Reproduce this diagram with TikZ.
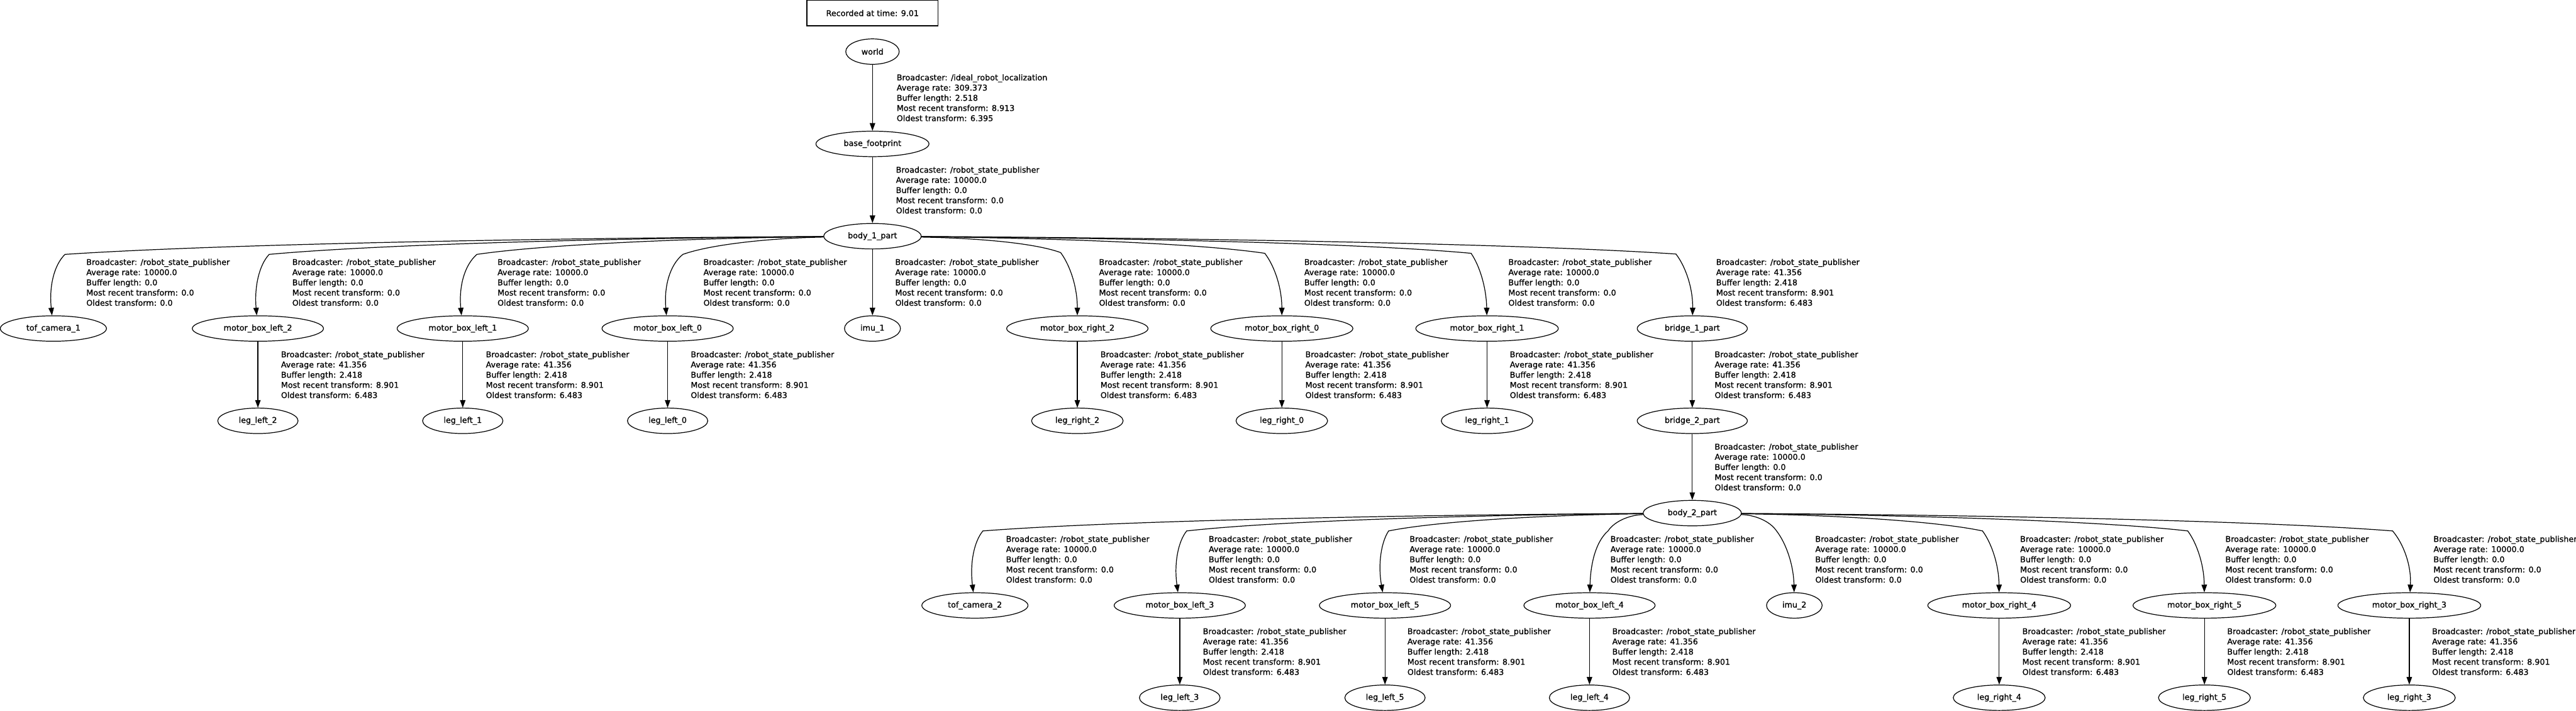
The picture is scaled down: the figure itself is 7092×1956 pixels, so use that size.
\documentclass[tikz,border=0pt]{standalone}
\usepackage{fontspec}
\setmainfont{DejaVu Sans}[FakeBold=1]
\usetikzlibrary{arrows.meta,shapes.geometric}

\newcommand{\staticinfo}{Broadcaster: /robot\_state\_publisher\\Average rate: 10000.0\\Buffer length: 0.0\\Most recent transform: 0.0\\Oldest transform: 0.0}
\newcommand{\liveinfo}{Broadcaster: /robot\_state\_publisher\\Average rate: 41.356\\Buffer length: 2.418\\Most recent transform: 8.901\\Oldest transform: 6.483}

\begin{document}
\begin{tikzpicture}[x=0.01cm, y=-0.01cm,
    font=\fontsize{6.26}{7.97}\selectfont,
    frame/.style={draw, ellipse, line width=0.6pt, inner sep=0pt, minimum height=0.7cm, minimum width=#1},
    info/.style={anchor=west, align=left, inner sep=0pt},
    edge/.style={line width=0.6pt, -{Triangle[length=0.21cm, width=0.15cm]}}]

    \useasboundingbox (0,0) rectangle (7092,1956);

    \node[draw, line width=0.6pt, minimum width=3.61cm, minimum height=0.7cm] (stamp) at (2402,36) {Recorded at time: 9.01};

    \node[frame=1.47cm] (world) at (2402,142) {world};
    \node[frame=3.11cm] (basefp) at (2402,396) {base\_footprint};
    \node[frame=2.68cm] (body1) at (2402,650) {body\_1\_part};

    \node[frame=2.92cm] (tof1) at (147,904) {tof\_camera\_1};
    \node[frame=3.61cm] (mbl2) at (710,904) {motor\_box\_left\_2};
    \node[frame=3.61cm] (mbl1) at (1274,904) {motor\_box\_left\_1};
    \node[frame=3.61cm] (mbl0) at (1838,904) {motor\_box\_left\_0};
    \node[frame=1.54cm] (imu1) at (2402,904) {imu\_1};
    \node[frame=3.89cm] (mbr2) at (2966,904) {motor\_box\_right\_2};
    \node[frame=3.91cm] (mbr0) at (3529,904) {motor\_box\_right\_0};
    \node[frame=3.92cm] (mbr1) at (4094,904) {motor\_box\_right\_1};
    \node[frame=3.03cm] (bridge1) at (4659,904) {bridge\_1\_part};

    \node[frame=2.21cm] (legl2) at (710,1158) {leg\_left\_2};
    \node[frame=2.21cm] (legl1) at (1274,1158) {leg\_left\_1};
    \node[frame=2.21cm] (legl0) at (1838,1158) {leg\_left\_0};
    \node[frame=2.52cm] (legr2) at (2966,1158) {leg\_right\_2};
    \node[frame=2.52cm] (legr0) at (3529,1158) {leg\_right\_0};
    \node[frame=2.52cm] (legr1) at (4094,1158) {leg\_right\_1};
    \node[frame=3.03cm] (bridge2) at (4659,1158) {bridge\_2\_part};

    \node[frame=2.70cm] (body2) at (4659,1412) {body\_2\_part};

    \node[frame=2.92cm] (tof2) at (2684,1666) {tof\_camera\_2};
    \node[frame=3.61cm] (mbl3) at (3248,1666) {motor\_box\_left\_3};
    \node[frame=3.61cm] (mbl5) at (3813,1666) {motor\_box\_left\_5};
    \node[frame=3.61cm] (mbl4) at (4376,1666) {motor\_box\_left\_4};
    \node[frame=1.53cm] (imu2) at (4940,1666) {imu\_2};
    \node[frame=3.93cm] (mbr4) at (5504,1666) {motor\_box\_right\_4};
    \node[frame=3.93cm] (mbr5) at (6069,1666) {motor\_box\_right\_5};
    \node[frame=3.93cm] (mbr3) at (6633,1666) {motor\_box\_right\_3};

    \node[frame=2.22cm] (legl3) at (3248,1920) {leg\_left\_3};
    \node[frame=2.21cm] (legl5) at (3813,1920) {leg\_left\_5};
    \node[frame=2.21cm] (legl4) at (4376,1920) {leg\_left\_4};
    \node[frame=2.53cm] (legr4) at (5504,1920) {leg\_right\_4};
    \node[frame=2.53cm] (legr5) at (6069,1920) {leg\_right\_5};
    \node[frame=2.53cm] (legr3) at (6633,1920) {leg\_right\_3};

    \draw[edge] (world) -- (basefp);
    \draw[edge] (basefp) -- (body1);
    \draw[edge] (body1) -- (imu1);
    \draw[edge] (body1) .. controls (1495,655) and (597,672) .. (179,700) .. controls (148,730) and (135,790) .. (tof1);
    \draw[edge] (body1) .. controls (1703,655) and (1046,672) .. (741,700) .. controls (713,730) and (700,790) .. (mbl2);
    \draw[edge] (body1) .. controls (1915,655) and (1504,672) .. (1313,700) .. controls (1278,730) and (1263,790) .. (mbl1);
    \draw[edge] (body1) .. controls (2124,655) and (1958,672) .. (1880,700) .. controls (1843,730) and (1828,790) .. (mbl0);
    \draw[edge] (body1) .. controls (2678,655) and (2843,667) .. (2920,695) .. controls (2946,730) and (2966,790) .. (mbr2);
    \draw[edge] (body1) .. controls (2886,655) and (3293,669) .. (3482,697) .. controls (3509,732) and (3529,792) .. (mbr0);
    \draw[edge] (body1) .. controls (3096,655) and (3747,669) .. (4050,697) .. controls (4074,732) and (4092,792) .. (mbr1);
    \draw[edge] (body1) .. controls (3305,655) and (4198,671) .. (4614,699) .. controls (4641,734) and (4661,794) .. (bridge1);

    \draw[edge] (mbl2) -- (legl2);
    \draw[edge] (mbl1) -- (legl1);
    \draw[edge] (mbl0) -- (legl0);
    \draw[edge] (mbr2) -- (legr2);
    \draw[edge] (mbr0) -- (legr0);
    \draw[edge] (mbr1) -- (legr1);
    \draw[edge] (bridge1) -- (bridge2);
    \draw[edge] (bridge2) -- (body2);

    \draw[edge] (body2) .. controls (3851,1417) and (3070,1433) .. (2706,1461) .. controls (2681,1491) and (2670,1551) .. (tof2);
    \draw[edge] (body2) .. controls (4059,1417) and (3518,1433) .. (3267,1461) .. controls (3243,1491) and (3232,1551) .. (mbl3);
    \draw[edge] (body2) .. controls (4265,1417) and (3963,1433) .. (3823,1461) .. controls (3803,1491) and (3793,1551) .. (mbl5);
    \draw[edge] (body2) .. controls (4488,1417) and (4446,1433) .. (4427,1461) .. controls (4393,1491) and (4379,1551) .. (mbl4);
    \draw[edge] (body2) .. controls (4830,1417) and (4872,1433) .. (4891,1461) .. controls (4918,1496) and (4938,1556) .. (imu2);
    \draw[edge] (body2) .. controls (5040,1417) and (5325,1433) .. (5458,1461) .. controls (5484,1496) and (5503,1556) .. (mbr4);
    \draw[edge] (body2) .. controls (5249,1417) and (5777,1433) .. (6023,1461) .. controls (6049,1496) and (6068,1556) .. (mbr5);
    \draw[edge] (body2) .. controls (5457,1417) and (6228,1433) .. (6587,1461) .. controls (6617,1496) and (6639,1556) .. (mbr3);

    \draw[edge] (mbl3) -- (legl3);
    \draw[edge] (mbl5) -- (legl5);
    \draw[edge] (mbl4) -- (legl4);
    \draw[edge] (mbr4) -- (legr4);
    \draw[edge] (mbr5) -- (legr5);
    \draw[edge] (mbr3) -- (legr3);

    \node[info] (i-basefp) at (2468,269) {Broadcaster: /ideal\_robot\_localization\\Average rate: 309.373\\Buffer length: 2.518\\Most recent transform: 8.913\\Oldest transform: 6.395};
    \node[info] (i-body1) at (2466,523) {\staticinfo};

    \node[info] (i-tof1) at (237,777) {\staticinfo};
    \node[info] (i-mbl2) at (804,777) {\staticinfo};
    \node[info] (i-mbl1) at (1369,777) {\staticinfo};
    \node[info] (i-mbl0) at (1936,777) {\staticinfo};
    \node[info] (i-imu1) at (2464,777) {\staticinfo};
    \node[info] (i-mbr2) at (3025,777) {\staticinfo};
    \node[info] (i-mbr0) at (3590,777) {\staticinfo};
    \node[info] (i-mbr1) at (4152,777) {\staticinfo};
    \node[info] (i-bridge1) at (4724,777) {\liveinfo};

    \node[info] (i-legl2) at (773,1031) {\liveinfo};
    \node[info] (i-legl1) at (1337,1031) {\liveinfo};
    \node[info] (i-legl0) at (1901,1031) {\liveinfo};
    \node[info] (i-legr2) at (3029,1031) {\liveinfo};
    \node[info] (i-legr0) at (3593,1031) {\liveinfo};
    \node[info] (i-legr1) at (4156,1031) {\liveinfo};
    \node[info] (i-bridge2) at (4720,1031) {\liveinfo};

    \node[info] (i-body2) at (4720,1285) {\staticinfo};

    \node[info] (i-tof2) at (2769,1539) {\staticinfo};
    \node[info] (i-mbl3) at (3327,1539) {\staticinfo};
    \node[info] (i-mbl5) at (3880,1539) {\staticinfo};
    \node[info] (i-mbl4) at (4433,1539) {\staticinfo};
    \node[info] (i-imu2) at (4997,1539) {\staticinfo};
    \node[info] (i-mbr4) at (5561,1539) {\staticinfo};
    \node[info] (i-mbr5) at (6126,1539) {\staticinfo};
    \node[info] (i-mbr3) at (6699,1539) {\staticinfo};

    \node[info] (i-legl3) at (3311,1793) {\liveinfo};
    \node[info] (i-legl5) at (3874,1793) {\liveinfo};
    \node[info] (i-legl4) at (4438,1793) {\liveinfo};
    \node[info] (i-legr4) at (5567,1793) {\liveinfo};
    \node[info] (i-legr5) at (6131,1793) {\liveinfo};
    \node[info] (i-legr3) at (6695,1793) {\liveinfo};

\end{tikzpicture}
\end{document}
